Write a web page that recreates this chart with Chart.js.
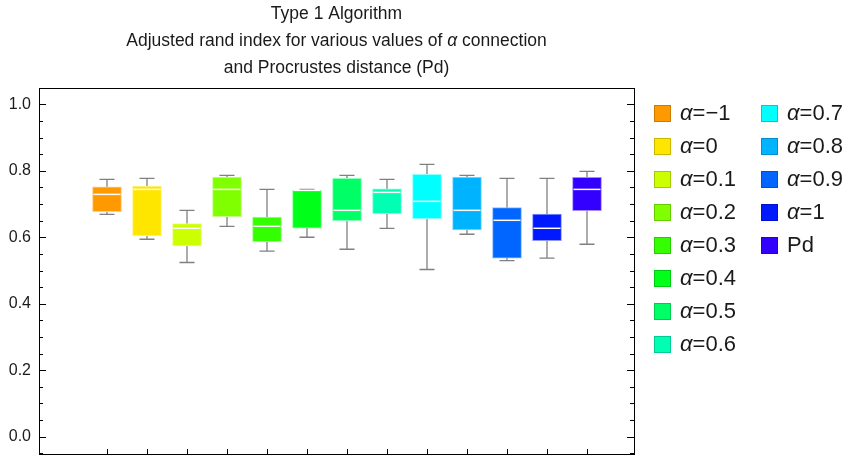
<!DOCTYPE html>
<html>
<head>
<meta charset="utf-8">
<script src="https://cdn.jsdelivr.net/npm/chart.js@4"></script>
<style>
  html, body { margin: 0; padding: 0; background: #fff; }
</style>
</head>
<body>
<canvas id="boxChart" width="849" height="458"></canvas>
<script>
var categories = ["α=−1", "α=0", "α=0.1", "α=0.2", "α=0.3", "α=0.4", "α=0.5",
                  "α=0.6", "α=0.7", "α=0.8", "α=0.9", "α=1", "Pd"];
var colors = ["#ff9900", "#ffe600", "#ccff00", "#80ff00", "#33ff00", "#00ff19", "#00ff66",
              "#00ffb3", "#00ffff", "#00b3ff", "#0066ff", "#0019ff", "#3300ff"];
var whiskerLow  = [0.669, 0.594, 0.524, 0.633, 0.558, 0.600, 0.564, 0.627, 0.503, 0.609, 0.530, 0.537, 0.579];
var q1          = [0.677, 0.604, 0.574, 0.662, 0.587, 0.627, 0.650, 0.671, 0.656, 0.622, 0.537, 0.590, 0.680];
var median      = [0.729, 0.744, 0.627, 0.744, 0.633, 0.741, 0.681, 0.735, 0.708, 0.681, 0.651, 0.627, 0.744];
var q3          = [0.752, 0.754, 0.641, 0.781, 0.661, 0.742, 0.777, 0.746, 0.789, 0.781, 0.689, 0.670, 0.780];
var whiskerHigh = [0.774, 0.777, 0.681, 0.786, 0.744, 0.744, 0.786, 0.774, 0.819, 0.786, 0.777, 0.777, 0.798];
var yTicks = [0, 0.2, 0.4, 0.6, 0.8, 1.0];
var titleLines = ["Type 1 Algorithm",
                  "Adjusted rand index for various values of α connection",
                  "and Procrustes distance (Pd)"];

function mix(hex, other, t) {
    var a = parseInt(hex.slice(1), 16), b = parseInt(other.slice(1), 16);
    var r = Math.round(((a >> 16) & 255) * (1 - t) + ((b >> 16) & 255) * t);
    var g = Math.round(((a >> 8) & 255) * (1 - t) + ((b >> 8) & 255) * t);
    var bl = Math.round((a & 255) * (1 - t) + (b & 255) * t);
    return "rgb(" + r + "," + g + "," + bl + ")";
}

var boxData = categories.map(function (c, i) {
    return { x: i, y: [q1[i], q3[i]] };
});

var FONT = "'Liberation Sans', Arial, sans-serif";

// draws text where every α is set in italic
function mixedText(ctx, text, x, y, size, align) {
    var parts = text.split(/(α)/);
    var widths = parts.map(function (p) {
        ctx.font = (p === "α" ? "italic " : "") + size + "px " + FONT;
        return ctx.measureText(p).width;
    });
    var total = widths.reduce(function (s, w) { return s + w; }, 0);
    var cx = align === "center" ? x - total / 2 : x;
    ctx.textAlign = "left";
    parts.forEach(function (p, k) {
        ctx.font = (p === "α" ? "italic " : "") + size + "px " + FONT;
        ctx.fillText(p, cx, y);
        cx += widths[k];
    });
}

var boxPlugin = {
    id: "boxWhisker",
    beforeDatasetsDraw: function (chart) {
        var ctx = chart.ctx, y = chart.scales.y;
        var bars = chart.getDatasetMeta(0).data;
        ctx.save();
        ctx.strokeStyle = "#808080";
        ctx.lineWidth = 1.3;
        bars.forEach(function (bar, i) {
            var x = bar.x;
            var yl = y.getPixelForValue(whiskerLow[i]);
            var yh = y.getPixelForValue(whiskerHigh[i]);
            ctx.beginPath();
            ctx.moveTo(x, yl); ctx.lineTo(x, yh);
            ctx.moveTo(x - 7.5, yl); ctx.lineTo(x + 7.5, yl);
            ctx.moveTo(x - 7.5, yh); ctx.lineTo(x + 7.5, yh);
            ctx.stroke();
        });
        ctx.restore();
    },
    afterDatasetsDraw: function (chart) {
        var ctx = chart.ctx, y = chart.scales.y;
        var bars = chart.getDatasetMeta(0).data;
        ctx.save();
        ctx.strokeStyle = "#ffffff";
        ctx.lineWidth = 1.5;
        bars.forEach(function (bar, i) {
            var ym = y.getPixelForValue(median[i]);
            ctx.beginPath();
            ctx.moveTo(bar.x - bar.width / 2 + 1, ym);
            ctx.lineTo(bar.x + bar.width / 2 - 1, ym);
            ctx.stroke();
        });
        ctx.restore();
    },
    afterDraw: function (chart) {
        var ctx = chart.ctx, a = chart.chartArea;
        var x = chart.scales.x, y = chart.scales.y;
        ctx.save();
        // frame
        ctx.strokeStyle = "#000";
        ctx.lineWidth = 1;
        ctx.strokeRect(Math.round(a.left) + 0.5, Math.round(a.top) + 0.5,
                       Math.round(a.right - a.left), Math.round(a.bottom - a.top));
        ctx.beginPath();
        // y ticks, inward on both sides
        for (var v = -0.05; v <= 1.0501; v += 0.05) {
            var py = Math.round(y.getPixelForValue(v)) + 0.5;
            if (py < a.top || py > a.bottom) continue;
            var major = Math.abs(Math.round(v * 100) % 20) === 0;
            var len = major ? 7 : 4;
            ctx.moveTo(a.left, py); ctx.lineTo(a.left + len, py);
            ctx.moveTo(a.right, py); ctx.lineTo(a.right - len, py);
        }
        // x ticks at categories
        categories.forEach(function (c, i) {
            var px = Math.round(x.getPixelForValue(i)) + 0.5;
            ctx.moveTo(px, a.bottom); ctx.lineTo(px, a.bottom - 5);
        });
        ctx.stroke();

        // title, centred over the frame
        ctx.fillStyle = "#1a1a1a";
        ctx.textBaseline = "middle";
        var mid = (a.left + a.right) / 2;
        titleLines.forEach(function (line, k) {
            mixedText(ctx, line, mid, 14 + k * 27, 17.5, "center");
        });

        // legend, two columns
        categories.forEach(function (label, i) {
            var col = i < 8 ? 0 : 1;
            var row = col ? i - 8 : i;
            var sx = col ? 761 : 654;
            var sy = 105 + row * 33;
            ctx.fillStyle = colors[i];
            ctx.fillRect(sx, sy, 17, 17);
            ctx.strokeStyle = mix(colors[i], "#000000", 0.2);
            ctx.lineWidth = 1;
            ctx.strokeRect(sx + 0.5, sy + 0.5, 16, 16);
            ctx.fillStyle = "#1a1a1a";
            mixedText(ctx, label, sx + 26, sy + 9, 22, "left");
        });
        ctx.restore();
    }
};

var ctxx = document.getElementById("boxChart").getContext("2d");

var myChart = new Chart(ctxx, {
    type: "bar",
    data: {
        datasets: [
            {
                data: boxData,
                backgroundColor: colors,
                borderColor: colors.map(function (c) { return mix(c, "#ffffff", 0.55); }),
                borderWidth: 1,
                borderSkipped: false,
                barThickness: 29,
            },
        ],
    },
    options: {
        responsive: false,
        animation: false,
        layout: {
            padding: { left: 0, right: 215, top: 88, bottom: 4 },
        },
        scales: {
            x: {
                type: "linear",
                min: -1.7,
                max: 13.175,
                offset: false,
                display: false,
            },
            y: {
                min: -0.052,
                max: 1.049,
                afterFit: function (scale) {
                    scale.width = 39;
                    scale.paddingTop = 0;
                    scale.paddingBottom = 0;
                },
                afterBuildTicks: function (scale) {
                    scale.ticks = yTicks.map(function (v) { return { value: v }; });
                },
                grid: { display: false, drawTicks: false },
                border: { display: false },
                ticks: {
                    padding: 8,
                    color: "#1a1a1a",
                    font: { family: FONT, size: 16 },
                    callback: function (v) { return Number(v).toFixed(1); },
                },
            },
        },
        plugins: {
            legend: { display: false },
            tooltip: { enabled: false },
            title: { display: false },
        },
    },
    plugins: [boxPlugin],
});
</script>
</body>
</html>
